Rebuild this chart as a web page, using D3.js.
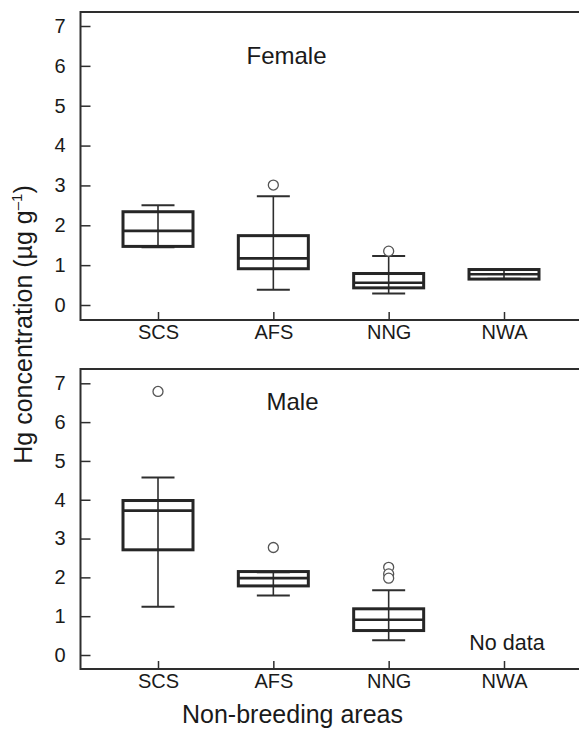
<!DOCTYPE html>
<html>
<head>
<meta charset="utf-8">
<script src="https://cdn.jsdelivr.net/npm/d3@7"></script>
<style>
  html, body { margin: 0; padding: 0; background: #fff; overflow: hidden; }
  svg { display: block; font-family: "Liberation Sans", Arial, Helvetica, sans-serif; }
</style>
</head>
<body>
<svg id="chart" width="579" height="730"></svg>
<script>
// ---- Data ----
const categories = ["SCS", "AFS", "NNG", "NWA"];
const yTicks = [0, 1, 2, 3, 4, 5, 6, 7];

const femaleMin     = [1.45, 0.38, 0.29, 0.66];
const femaleQ1      = [1.47, 0.91, 0.43, 0.65];
const femaleMedian  = [1.86, 1.17, 0.56, 0.77];
const femaleQ3      = [2.34, 1.74, 0.79, 0.89];
const femaleMax     = [2.50, 2.73, 1.23, 0.88];
const femaleOutliers = [[], [3.01], [1.35], []];

const maleMin      = [1.24, 1.53, 0.38, null];
const maleQ1       = [2.71, 1.78, 0.63, null];
const maleMedian   = [3.72, 1.98, 0.91, null];
const maleQ3       = [3.98, 2.15, 1.19, null];
const maleMax      = [4.57, 2.13, 1.67, null];
const maleOutliers = [[6.79], [2.77], [2.26, 2.09, 1.98], []];

const panelTitles = ["Female", "Male"];
const xLabel = "Non-breeding areas";
const noDataLabel = "No data";

// ---- Layout ----
const svg = d3.select("#chart");
const frameLeft = 80.5, frameRight = 579;
const lineColor = "#2e2e2e";
const textColor = "#1a1a1a";

const x = d3.scalePoint().domain(categories).range([158, 504]);

const panels = [
  { top: 12, bottom: 320, y: d3.scaleLinear().domain([0, 7]).range([305, 26]),
    min: femaleMin, q1: femaleQ1, med: femaleMedian, q3: femaleQ3, max: femaleMax, out: femaleOutliers,
    titleX: 246.5, titleY: 64 },
  { top: 369, bottom: 669, y: d3.scaleLinear().domain([0, 7]).range([655, 383.3]),
    min: maleMin, q1: maleQ1, med: maleMedian, q3: maleQ3, max: maleMax, out: maleOutliers,
    titleX: 266.5, titleY: 410 }
];

const boxHalf = 35, capHalf = 16.5;

panels.forEach((p, pi) => {
  const g = svg.append("g");
  const y = p.y;

  // frame: left, top and bottom sides (open on the right, running off the canvas)
  g.append("path")
    .attr("d", `M${frameRight},${p.top}H${frameLeft}V${p.bottom}H${frameRight}`)
    .attr("fill", "none").attr("stroke", lineColor).attr("stroke-width", 2);

  // y axis (ticks inward)
  const ya = g.append("g").attr("transform", `translate(${frameLeft},0)`)
    .call(d3.axisLeft(y).tickValues(yTicks).tickFormat(d3.format("d")).tickSize(-10).tickPadding(15));
  ya.select(".domain").remove();
  ya.selectAll(".tick line").attr("stroke", lineColor).attr("stroke-width", 1.5);
  ya.selectAll(".tick text").attr("font-size", 20).attr("fill", textColor)
    .attr("font-family", "Liberation Sans, Arial, sans-serif");

  // x axis (ticks inward)
  const xa = g.append("g").attr("transform", `translate(0,${p.bottom})`)
    .call(d3.axisBottom(x).tickSize(-8).tickPadding(5));
  xa.select(".domain").remove();
  xa.selectAll(".tick line").attr("stroke", lineColor).attr("stroke-width", 1.5);
  xa.selectAll(".tick text").attr("font-size", 20).attr("fill", textColor)
    .attr("font-family", "Liberation Sans, Arial, sans-serif");

  // boxes
  const data = categories.map((c, i) => ({
    c, min: p.min[i], q1: p.q1[i], med: p.med[i], q3: p.q3[i], max: p.max[i], out: p.out[i]
  }));
  const boxes = g.selectAll("g.box").data(data.filter(d => d.q1 != null)).enter()
    .append("g").attr("class", "box");

  // whisker stem
  boxes.append("line")
    .attr("x1", d => x(d.c)).attr("x2", d => x(d.c))
    .attr("y1", d => y(d.min)).attr("y2", d => y(d.max))
    .attr("stroke", lineColor).attr("stroke-width", 1.6);
  // caps
  ["min", "max"].forEach(k => {
    boxes.append("line")
      .attr("x1", d => x(d.c) - capHalf).attr("x2", d => x(d.c) + capHalf)
      .attr("y1", d => y(d[k])).attr("y2", d => y(d[k]))
      .attr("stroke", lineColor).attr("stroke-width", 2);
  });
  // box
  boxes.append("rect")
    .attr("x", d => x(d.c) - boxHalf).attr("width", boxHalf * 2)
    .attr("y", d => y(d.q3)).attr("height", d => y(d.q1) - y(d.q3))
    .attr("fill", "none").attr("stroke", "#262626").attr("stroke-width", 3);
  // median
  boxes.append("line")
    .attr("x1", d => x(d.c) - boxHalf).attr("x2", d => x(d.c) + boxHalf)
    .attr("y1", d => y(d.med)).attr("y2", d => y(d.med))
    .attr("stroke", "#262626").attr("stroke-width", 2.6);

  // outliers
  const outs = [];
  data.forEach(d => d.out.forEach(v => outs.push({ c: d.c, v })));
  g.selectAll("circle.out").data(outs).enter().append("circle")
    .attr("class", "out")
    .attr("cx", d => x(d.c)).attr("cy", d => y(d.v)).attr("r", 5)
    .attr("fill", "#fff").attr("stroke", "#555").attr("stroke-width", 1.3);

  // no data marker
  data.filter(d => d.q1 == null).forEach(d => {
    g.append("text").attr("x", x(d.c) + 3).attr("y", y(0) - 5)
      .attr("text-anchor", "middle").attr("font-size", 21.5).attr("fill", textColor)
      .text(noDataLabel);
  });

  // panel title
  g.append("text").attr("x", p.titleX).attr("y", p.titleY)
    .attr("font-size", 24).attr("fill", textColor).text(panelTitles[pi]);
});

// x axis label
svg.append("text").attr("x", 292.5).attr("y", 723)
  .attr("text-anchor", "middle").attr("font-size", 25).attr("fill", textColor)
  .text(xLabel);

// y axis label
const yl = svg.append("text")
  .attr("transform", "translate(32,324.5) rotate(-90)")
  .attr("text-anchor", "middle").attr("font-size", 25).attr("fill", textColor);
yl.append("tspan").text("Hg concentration (µg g");
yl.append("tspan").attr("font-size", 15).attr("dy", -10).text("–1");
yl.append("tspan").attr("dy", 10).text(")");
</script>
</body>
</html>
